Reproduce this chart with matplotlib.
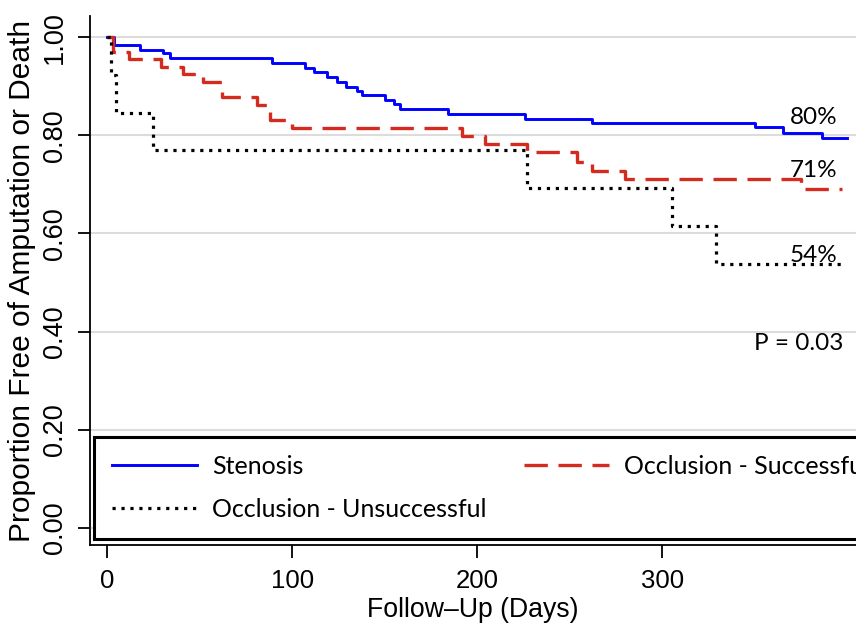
import matplotlib
matplotlib.use("Agg")
import matplotlib.pyplot as plt

# Kaplan-Meier step data (days, survival proportion)
sten_days = [0, 4, 18, 30, 34, 89, 107, 112, 119, 124, 129, 135, 138, 150, 155, 158,
             184, 226, 262, 350, 365, 386, 400]
sten_surv = [1.0, 0.984, 0.973, 0.967, 0.957, 0.948, 0.937, 0.928, 0.919, 0.909, 0.899,
             0.890, 0.882, 0.871, 0.863, 0.853, 0.844, 0.834, 0.825, 0.816, 0.805, 0.795, 0.795]

succ_days = [0, 3, 12, 29, 41, 52, 62, 81, 88, 100, 192, 204, 227, 254, 262, 280, 375, 397]
succ_surv = [1.0, 0.970, 0.955, 0.939, 0.924, 0.908, 0.877, 0.861, 0.831, 0.814, 0.798,
             0.782, 0.765, 0.746, 0.727, 0.710, 0.691, 0.691]

unsucc_days = [0, 2, 5, 25, 227, 305, 329, 399]
unsucc_surv = [1.0, 12 / 13, 11 / 13, 10 / 13, 9 / 13, 8 / 13, 7 / 13, 7 / 13]

labels = ["Stenosis", "Occlusion - Successful", "Occlusion - Unsuccessful"]
end_labels = ["80%", "71%", "54%"]
end_label_y = [0.837, 0.729, 0.554]
p_text = "P = 0.03"

yticks = [0.0, 0.2, 0.4, 0.6, 0.8, 1.0]
xticks = [0, 100, 200, 300]

axis_font = ["Liberation Sans", "DejaVu Sans"]
note_font = ["Lato", "DejaVu Sans"]

fig = plt.figure(figsize=(8.56, 6.35), dpi=100)
ax = fig.add_axes([90 / 856, 90 / 635, 1 - 90 / 856, 529 / 635])

l1, = ax.step(sten_days, sten_surv, where="post", color="#0000ff", lw=2.1)
l2, = ax.step(succ_days, succ_surv, where="post", color="#d42a20", lw=2.4,
              linestyle=(0, (7, 3.2)))
l3, = ax.step(unsucc_days, unsucc_surv, where="post", color="black", lw=2.3,
              linestyle=(0, (1, 1.8)))

ax.set_xlim(-9.2, 404.6)
ax.set_ylim(-0.035, 1.043)
ax.set_xticks(xticks)
ax.set_yticks(yticks)
ax.set_yticklabels([f"{v:.2f}" for v in yticks], rotation=90, va="center")
ax.tick_params(axis="both", length=9, width=1.3, pad=6)
ax.tick_params(axis="y", labelsize=19.5, pad=7)
ax.tick_params(axis="x", labelsize=18.5, pad=8)
for lab in ax.get_xticklabels() + ax.get_yticklabels():
    lab.set_fontfamily(axis_font)

ax.yaxis.grid(True, color="#dcdcdc", lw=1.5)
ax.set_axisbelow(True)
for side in ["top", "right"]:
    ax.spines[side].set_visible(False)
for side in ["left", "bottom"]:
    ax.spines[side].set_linewidth(1.3)

ax.set_xlabel("Follow\u2013Up (Days)", fontsize=19.2, family=axis_font, labelpad=3)
ax.set_ylabel("Proportion Free of Amputation or Death", fontsize=21.5,
              family=axis_font, labelpad=4)

for txt, yv in zip(end_labels, end_label_y):
    ax.text(381.7, yv, txt, ha="center", va="center", fontsize=17.5, family=note_font)
ax.text(373.5, 0.376, p_text, ha="center", va="center", fontsize=17.5, family=note_font)

# two-column legend, filled row by row
leg = ax.legend([l1, l3, l2], [labels[0], labels[2], labels[1]], loc="upper left",
                ncol=2, mode="expand", bbox_to_anchor=(0.005, 0.204, 1.035, 0.0),
                borderaxespad=0, fancybox=False, frameon=True, edgecolor="black",
                framealpha=1, handlelength=3.4, handletextpad=0.6, labelspacing=0.8,
                borderpad=0.72, prop={"family": note_font, "size": 18})
leg.get_frame().set_linewidth(2.2)

fig.savefig("out.png", dpi=100)
